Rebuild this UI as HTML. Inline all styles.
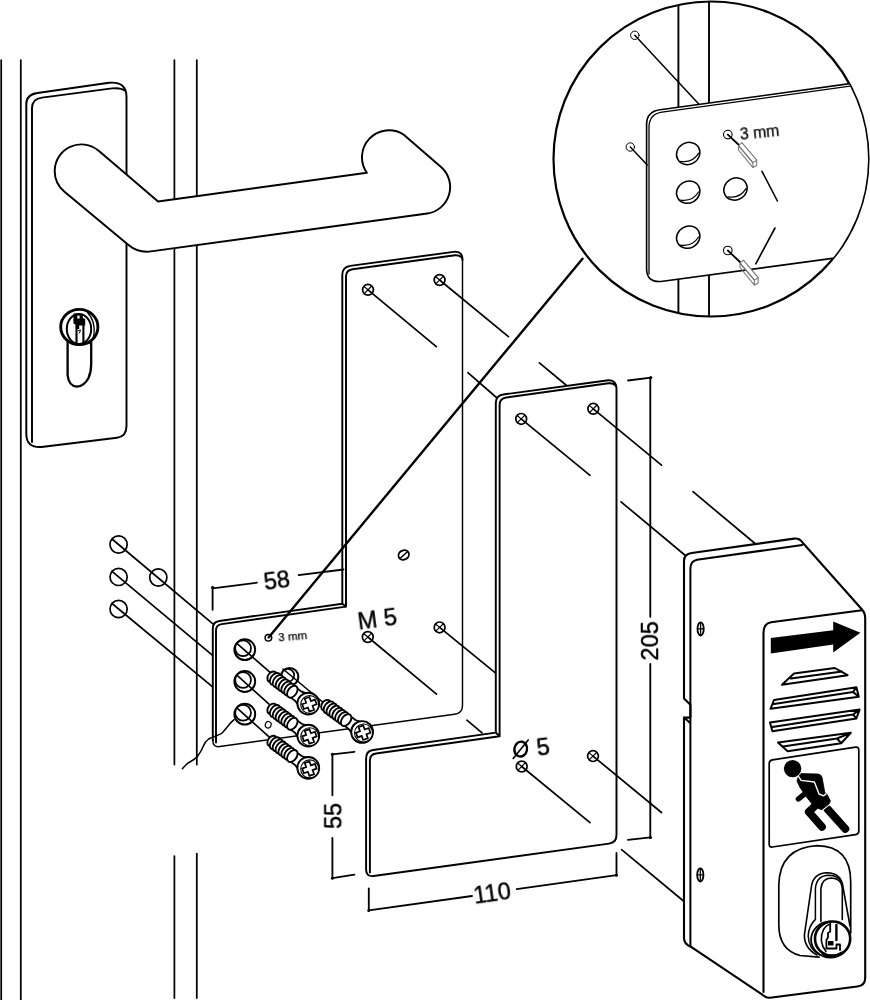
<!DOCTYPE html>
<html><head><meta charset="utf-8"><title>Diagram</title>
<style>
html,body{margin:0;padding:0;background:#fff;}
body{width:870px;height:1000px;overflow:hidden;font-family:"Liberation Sans",sans-serif;}
svg{display:block}
text{font-family:"Liberation Sans",sans-serif;fill:#000;stroke:#000;stroke-width:0.42;stroke-linejoin:round;filter:url(#nf)}
.sm{stroke-width:0.25}
.o{fill:none;stroke:#000;stroke-width:1.95;stroke-linecap:round;stroke-linejoin:round}
.w{fill:#fff;stroke:#000;stroke-width:1.95;stroke-linecap:round;stroke-linejoin:round}
.t{fill:none;stroke:#000;stroke-width:1.75;stroke-linecap:round;stroke-linejoin:round}
.tw{fill:#fff;stroke:#000;stroke-width:1.75;stroke-linecap:round;stroke-linejoin:round}
.k{fill:none;stroke:#000;stroke-width:2.4;stroke-linecap:round;stroke-linejoin:round}
.g{fill:#fff;stroke:#777;stroke-width:1.1;stroke-linejoin:round}
</style></head><body>
<svg width="870" height="1000" viewBox="0 0 870 1000">
<defs><filter id="nf" x="-20%" y="-20%" width="140%" height="140%"><feOffset dx="0" dy="0"/></filter></defs>
<rect width="870" height="1000" fill="#fff"/>

<g class="t">
<path d="M1.2 60V1000M20.8 60V1000"/>
<path d="M174.4 60V764.5M196.8 60V764.5M174.4 856V998M196.8 853.5V998"/>
</g>
<path class="w" d="M26.3 104 Q26.3 94.5 37.5 93 L109 82.8 Q126.5 81 126.5 97 V426 Q126.5 436.5 117 437.7 L41.5 447 Q26.3 448 26.3 434 Z"/>
<path class="o" d="M32 442 V108 Q32 99 42 97.6 L112 88.4 Q121 87.5 124.8 90.5"/>
<g>
<path class="w" style="stroke-width:2.3" d="M67.6 342 V375 Q68.5 386 77 386.6 Q84 386.4 88.5 378 Q91.2 372 91.2 364 V342"/>
<ellipse cx="79.3" cy="327" rx="18.6" ry="17.6" fill="#fff" stroke="#000" stroke-width="2.9"/>
<path d="M87.5 312.5 Q95.5 321 94 334 Q93 340 89 343.5" class="o" style="stroke-width:1.3"/>
<ellipse cx="79" cy="329" rx="12.2" ry="15" fill="#fff" stroke="#000" stroke-width="2"/>
<path d="M76.5 318 V343 M83.4 320 V342.5" class="o" style="stroke-width:2.1"/>
<path d="M73.4 313.4 h6.5 l3 1.5 v3 l2.3 1 v6.5 h-6 v3.5 h-3.3 v-4.5 l-2.5 -1 z" fill="#000"/>
<rect x="77.3" y="315.6" width="2.3" height="3" fill="#fff"/>
<path d="M78.5 330.5 l2 -0.5 l-1 3" class="o" style="stroke-width:1"/>
</g>
<path class="w" d="M98.4 150.6 L158.1 201.5 L366.9 172.8 A27 27 0 0 1 403.5 134.5 L441.6 167.5 A26.7 26.7 0 0 1 427.3 213.5 L151 251.4 Q138.5 253.3 128.5 245 L64.2 191.4 A26.6 26.6 0 0 1 54.7 171 A26.6 26.6 0 0 1 98.4 150.6 Z"/>
<g class="t" style="stroke-width:1.7">
<circle cx="118.6" cy="544.5" r="8.6" fill="#fff"/>
<circle cx="118.6" cy="576.9" r="8.6" fill="#fff"/>
<circle cx="118.6" cy="609" r="8.6" fill="#fff"/>
<circle cx="158.3" cy="577.5" r="8.6" fill="#fff"/>
<path d="M112 539 L212.6 623.7 M112 571.4 L212.6 655.3 M112 603.5 L212.6 686.9"/>
</g>
<path fill="#fff" d="M212.8 628.4 Q212.8 621.9 219.3 621 L342.3 603.7 V275 Q342.3 267 350.3 265.9 L453.5 251.85 Q462.5 250.6 462.5 260 V705.5 Q462.5 713.2 454.5 714.3 L219.8 746.55 Q212.8 747.5 212.8 740.5 Z"/>
<path class="o" d="M212.8 740.5 V628.4 Q212.8 621.9 219.3 621 L342.3 603.7 V275 Q342.3 267 350.3 265.9 L453.5 251.85 Q462.5 250.6 462.5 260"/>
<path class="o" style="stroke-width:1.45" d="M462.5 260 V705.5 Q462.5 713.2 454.5 714.3 L219.8 746.55 Q212.8 747.5 212.8 740.5"/>
<path class="o" d="M216 742.5 V630.5 Q216 624.9 221.8 624.1 L346 606.6 V276.5 Q346 270.1 352.5 269.2 L455 255.2 Q459.5 254.8 461.8 257.6 M342.3 603.7 L346 606.6"/>
<circle class="tw" style="stroke-width:1.7" cx="368" cy="289.8" r="5.4"/>
<path class="t" style="stroke-width:1.2" d="M364.2 293.6 L371.8 286.0 M364.2 286.6 L368.0 289.8"/>
<path class="t" style="stroke-width:1.7" d="M368 289.8 L436.3 346.7"/>
<circle class="tw" style="stroke-width:1.7" cx="439.6" cy="280" r="5.4"/>
<path class="t" style="stroke-width:1.2" d="M435.8 283.8 L443.4 276.2 M435.8 276.8 L439.6 280.0"/>
<path class="t" style="stroke-width:1.7" d="M439.6 280 L508.4 336.6"/>
<circle class="tw" style="stroke-width:1.7" cx="367.8" cy="637" r="5.4"/>
<path class="t" style="stroke-width:1.2" d="M364.0 640.8 L371.6 633.2 M364.0 633.8 L367.8 637.0"/>
<path class="t" style="stroke-width:1.7" d="M367.8 637 L436.5 694.2"/>
<circle class="tw" style="stroke-width:1.7" cx="439.6" cy="627.4" r="5.4"/>
<path class="t" style="stroke-width:1.2" d="M435.8 631.2 L443.4 623.6 M435.8 624.2 L439.6 627.4"/>
<path class="t" style="stroke-width:1.7" d="M439.6 627.4 L496 673.4"/>
<ellipse class="tw" style="stroke-width:1.9" cx="403.7" cy="555" rx="5.4" ry="4.6" transform="rotate(-25 403.7 555)"/>
<path class="t" style="stroke-width:1.5" d="M400.8 557.8 L406.8 552.2"/>
<circle cx="289.6" cy="676.8" r="8.8" fill="#fff" stroke="#000" stroke-width="2"/>
<circle cx="287.90000000000003" cy="675.3" r="6.300000000000001" fill="#fff" stroke="#000" stroke-width="1.7"/>
<circle cx="244.8" cy="649.7" r="10.4" fill="#fff" stroke="#000" stroke-width="2"/>
<circle cx="243.10000000000002" cy="648.2" r="7.9" fill="#fff" stroke="#000" stroke-width="1.7"/>
<circle cx="244.8" cy="681.5" r="10.4" fill="#fff" stroke="#000" stroke-width="2"/>
<circle cx="243.10000000000002" cy="680.0" r="7.9" fill="#fff" stroke="#000" stroke-width="1.7"/>
<circle cx="244.8" cy="714.2" r="10.4" fill="#fff" stroke="#000" stroke-width="2"/>
<circle cx="243.10000000000002" cy="712.7" r="7.9" fill="#fff" stroke="#000" stroke-width="1.7"/>
<circle cx="268.4" cy="637.8" r="3.3" fill="#fff" stroke="#000" stroke-width="1.5"/>
<ellipse cx="268.2" cy="724.8" rx="2.9" ry="3.3" fill="#fff" stroke="#000" stroke-width="1.2" transform="rotate(20 268.2 724.8)"/>
<path class="t" style="stroke-width:1.5" d="M234.1 719.7 C230 723 226 729 222.4 732.8 C219 735.8 212.5 736.6 208.6 739 C205 741.5 204.2 744 203.1 746.6 C201.5 751 199.6 753.5 197.6 756.2 C194.5 760 191 761.2 187.9 763.1 C185.5 765 184 767 182.4 768.6"/>
<g class="t" style="stroke-width:1.6">
<path d="M237.4 643.9 L271 673.2"/>
<path d="M237.4 675.7 L271 705.8"/>
<path d="M237.4 708.4 L271 738.7"/>
<path d="M283 669 L325 704"/>
</g>
<g transform="translate(362.6,732.3) rotate(36.50)">
<path class="w" style="stroke-width:1.8" d="M-24 -5.6 L-13 -5.6 Q-8 -6.4 -3 -10.5 L-3 10.5 Q-8 6.4 -13 5.6 L-24 5.6 Z"/>
<ellipse cx="-45.50" cy="0" rx="4.3" ry="5.8" fill="#fff" stroke="#000" stroke-width="1.9"/>
<ellipse cx="-41.93" cy="0" rx="4.3" ry="6.7" fill="#fff" stroke="#000" stroke-width="1.9"/>
<ellipse cx="-38.36" cy="0" rx="4.3" ry="6.7" fill="#fff" stroke="#000" stroke-width="1.9"/>
<ellipse cx="-34.79" cy="0" rx="4.3" ry="6.7" fill="#fff" stroke="#000" stroke-width="1.9"/>
<ellipse cx="-31.21" cy="0" rx="4.3" ry="6.7" fill="#fff" stroke="#000" stroke-width="1.9"/>
<ellipse cx="-27.64" cy="0" rx="4.3" ry="6.7" fill="#fff" stroke="#000" stroke-width="1.9"/>
<ellipse cx="-24.07" cy="0" rx="4.3" ry="6.7" fill="#fff" stroke="#000" stroke-width="1.9"/>
<ellipse cx="-20.50" cy="0" rx="4.3" ry="6.7" fill="#fff" stroke="#000" stroke-width="1.9"/>
</g>
<circle cx="362.1" cy="732.0" r="10.9" fill="#fff" stroke="#000" stroke-width="1.9"/>
<circle cx="363.5" cy="733.0" r="9.0" fill="#fff" stroke="#000" stroke-width="1.1"/>
<path transform="translate(363.20000000000005,732.6999999999999) rotate(-20)" fill="#fff" stroke="#000" stroke-width="1.7" stroke-linejoin="miter" d="M-2.5 -6.8 H2.5 V-2.5 H6.8 V2.5 H2.5 V6.8 H-2.5 V2.5 H-6.8 V-2.5 H-2.5 Z"/>
<g transform="translate(308.8,703.9) rotate(36.50)">
<path class="w" style="stroke-width:1.8" d="M-24 -5.6 L-13 -5.6 Q-8 -6.4 -3 -10.5 L-3 10.5 Q-8 6.4 -13 5.6 L-24 5.6 Z"/>
<ellipse cx="-45.50" cy="0" rx="4.3" ry="5.8" fill="#fff" stroke="#000" stroke-width="1.9"/>
<ellipse cx="-41.93" cy="0" rx="4.3" ry="6.7" fill="#fff" stroke="#000" stroke-width="1.9"/>
<ellipse cx="-38.36" cy="0" rx="4.3" ry="6.7" fill="#fff" stroke="#000" stroke-width="1.9"/>
<ellipse cx="-34.79" cy="0" rx="4.3" ry="6.7" fill="#fff" stroke="#000" stroke-width="1.9"/>
<ellipse cx="-31.21" cy="0" rx="4.3" ry="6.7" fill="#fff" stroke="#000" stroke-width="1.9"/>
<ellipse cx="-27.64" cy="0" rx="4.3" ry="6.7" fill="#fff" stroke="#000" stroke-width="1.9"/>
<ellipse cx="-24.07" cy="0" rx="4.3" ry="6.7" fill="#fff" stroke="#000" stroke-width="1.9"/>
<ellipse cx="-20.50" cy="0" rx="4.3" ry="6.7" fill="#fff" stroke="#000" stroke-width="1.9"/>
</g>
<circle cx="308.3" cy="703.6" r="10.9" fill="#fff" stroke="#000" stroke-width="1.9"/>
<circle cx="309.7" cy="704.6" r="9.0" fill="#fff" stroke="#000" stroke-width="1.1"/>
<path transform="translate(309.40000000000003,704.3) rotate(-20)" fill="#fff" stroke="#000" stroke-width="1.7" stroke-linejoin="miter" d="M-2.5 -6.8 H2.5 V-2.5 H6.8 V2.5 H2.5 V6.8 H-2.5 V2.5 H-6.8 V-2.5 H-2.5 Z"/>
<g transform="translate(308.8,736) rotate(36.50)">
<path class="w" style="stroke-width:1.8" d="M-24 -5.6 L-13 -5.6 Q-8 -6.4 -3 -10.5 L-3 10.5 Q-8 6.4 -13 5.6 L-24 5.6 Z"/>
<ellipse cx="-45.50" cy="0" rx="4.3" ry="5.8" fill="#fff" stroke="#000" stroke-width="1.9"/>
<ellipse cx="-41.93" cy="0" rx="4.3" ry="6.7" fill="#fff" stroke="#000" stroke-width="1.9"/>
<ellipse cx="-38.36" cy="0" rx="4.3" ry="6.7" fill="#fff" stroke="#000" stroke-width="1.9"/>
<ellipse cx="-34.79" cy="0" rx="4.3" ry="6.7" fill="#fff" stroke="#000" stroke-width="1.9"/>
<ellipse cx="-31.21" cy="0" rx="4.3" ry="6.7" fill="#fff" stroke="#000" stroke-width="1.9"/>
<ellipse cx="-27.64" cy="0" rx="4.3" ry="6.7" fill="#fff" stroke="#000" stroke-width="1.9"/>
<ellipse cx="-24.07" cy="0" rx="4.3" ry="6.7" fill="#fff" stroke="#000" stroke-width="1.9"/>
<ellipse cx="-20.50" cy="0" rx="4.3" ry="6.7" fill="#fff" stroke="#000" stroke-width="1.9"/>
</g>
<circle cx="308.3" cy="735.7" r="10.9" fill="#fff" stroke="#000" stroke-width="1.9"/>
<circle cx="309.7" cy="736.7" r="9.0" fill="#fff" stroke="#000" stroke-width="1.1"/>
<path transform="translate(309.40000000000003,736.4) rotate(-20)" fill="#fff" stroke="#000" stroke-width="1.7" stroke-linejoin="miter" d="M-2.5 -6.8 H2.5 V-2.5 H6.8 V2.5 H2.5 V6.8 H-2.5 V2.5 H-6.8 V-2.5 H-2.5 Z"/>
<g transform="translate(308.8,768.2) rotate(36.50)">
<path class="w" style="stroke-width:1.8" d="M-24 -5.6 L-13 -5.6 Q-8 -6.4 -3 -10.5 L-3 10.5 Q-8 6.4 -13 5.6 L-24 5.6 Z"/>
<ellipse cx="-45.50" cy="0" rx="4.3" ry="5.8" fill="#fff" stroke="#000" stroke-width="1.9"/>
<ellipse cx="-41.93" cy="0" rx="4.3" ry="6.7" fill="#fff" stroke="#000" stroke-width="1.9"/>
<ellipse cx="-38.36" cy="0" rx="4.3" ry="6.7" fill="#fff" stroke="#000" stroke-width="1.9"/>
<ellipse cx="-34.79" cy="0" rx="4.3" ry="6.7" fill="#fff" stroke="#000" stroke-width="1.9"/>
<ellipse cx="-31.21" cy="0" rx="4.3" ry="6.7" fill="#fff" stroke="#000" stroke-width="1.9"/>
<ellipse cx="-27.64" cy="0" rx="4.3" ry="6.7" fill="#fff" stroke="#000" stroke-width="1.9"/>
<ellipse cx="-24.07" cy="0" rx="4.3" ry="6.7" fill="#fff" stroke="#000" stroke-width="1.9"/>
<ellipse cx="-20.50" cy="0" rx="4.3" ry="6.7" fill="#fff" stroke="#000" stroke-width="1.9"/>
</g>
<circle cx="308.3" cy="767.9000000000001" r="10.9" fill="#fff" stroke="#000" stroke-width="1.9"/>
<circle cx="309.7" cy="768.9000000000001" r="9.0" fill="#fff" stroke="#000" stroke-width="1.1"/>
<path transform="translate(309.40000000000003,768.6) rotate(-20)" fill="#fff" stroke="#000" stroke-width="1.7" stroke-linejoin="miter" d="M-2.5 -6.8 H2.5 V-2.5 H6.8 V2.5 H2.5 V6.8 H-2.5 V2.5 H-6.8 V-2.5 H-2.5 Z"/>
<path class="k" d="M582.5 258.7 L268.6 637.4"/>
<text class="sm" transform="translate(278.6,641.4) rotate(-5)" font-size="11.6">3 mm</text>
<text transform="translate(358.8,629.6) rotate(-7.5)" font-size="23.6">M 5</text>
<g class="t" style="stroke-width:1.7">
<path d="M467.9 372.7 L497 398 M539.4 362.8 L567.2 386 M466.9 720.2 L482 732.9 M621 501.8 L684.8 555 M693 491.7 L755 543.5 M621.6 849.7 L683.5 901"/>
</g>
<path class="w" d="M366.1 758 Q366.1 751 373.1 750 L495.8 732.6 V403 Q495.8 395.5 503.3 394.5 L606.5 380.45 Q616.5 379.1 616.5 389.3 V835 Q616.5 842.6 609 843.6 L373.6 876 Q366.1 877 366.1 869.5 Z"/>
<path class="o" d="M369.9 872.5 V760.5 Q369.9 754.4 376 753.55 L499.6 736.2 V405 Q499.6 398.4 506.2 397.5 L608.5 383.3 Q613.3 382.9 615.8 385.8 M495.8 732.6 L499.6 736.2"/>
<circle class="tw" style="stroke-width:1.7" cx="521.2" cy="418.9" r="5.4"/>
<path class="t" style="stroke-width:1.2" d="M517.4 422.7 L525.0 415.1 M517.4 415.7 L521.2 418.9"/>
<path class="t" style="stroke-width:1.7" d="M521.2 418.9 L590 475.3"/>
<circle class="tw" style="stroke-width:1.7" cx="593.3" cy="408.8" r="5.4"/>
<path class="t" style="stroke-width:1.2" d="M589.5 412.6 L597.1 405.0 M589.5 405.6 L593.3 408.8"/>
<path class="t" style="stroke-width:1.7" d="M593.3 408.8 L661.5 465.2"/>
<circle class="tw" style="stroke-width:1.7" cx="521.7" cy="766.5" r="5.4"/>
<path class="t" style="stroke-width:1.2" d="M517.9 770.3 L525.5 762.7 M517.9 763.3 L521.7 766.5"/>
<path class="t" style="stroke-width:1.7" d="M521.7 766.5 L590 822.6"/>
<circle class="tw" style="stroke-width:1.7" cx="593" cy="756.1" r="5.4"/>
<path class="t" style="stroke-width:1.2" d="M589.2 759.9 L596.8 752.3 M589.2 752.9 L593.0 756.1"/>
<path class="t" style="stroke-width:1.7" d="M593 756.1 L661.5 812.5"/>
<ellipse cx="520.7" cy="749.1" rx="6.3" ry="7.5" transform="rotate(12 520.7 749.1)" fill="none" stroke="#000" stroke-width="2.4"/>
<path d="M512.8 759.1 L528.6 739.5" stroke="#000" stroke-width="1.6" fill="none"/>
<text transform="translate(537.6,755.8) rotate(-7)" font-size="23.6">5</text>
<g class="t" style="stroke-width:1.85">
<path d="M212.6 587 V609.8 M212.6 588.3 L256.9 582.7 M298.6 575.2 L343.5 569.5"/>
<path d="M332.4 754.5 V795.3 M332.4 837.8 V878 M332.4 754.3 L354.4 751.8 M332.4 878.2 L354.4 874.6"/>
<path d="M368.8 888.4 V910.4 M368.8 910.4 L472 896 M516.7 889.1 L616.5 875.2 M616.5 853 V875.2"/>
<path d="M650.3 378 V616.8 M650.3 664 V838 M628 380.5 L651 377.6 M628 839.8 L650.5 837.3"/>
</g>
<circle cx="212.6" cy="587.6" r="1.5" fill="#000"/>
<circle cx="332.4" cy="754.3" r="1.5" fill="#000"/>
<circle cx="332.4" cy="878.2" r="1.5" fill="#000"/>
<circle cx="368.8" cy="910.4" r="1.5" fill="#000"/>
<circle cx="616.5" cy="875.2" r="1.5" fill="#000"/>
<circle cx="650.8" cy="377.6" r="1.5" fill="#000"/>
<circle cx="650.5" cy="837.5" r="1.5" fill="#000"/>
<text transform="translate(277.8,588.3) rotate(-7.5)" font-size="23.6" text-anchor="middle">58</text>
<text transform="translate(341.3,816) rotate(-90)" font-size="23.6" text-anchor="middle">55</text>
<text transform="translate(493.2,901.1) rotate(-8)" font-size="23.6" text-anchor="middle">110</text>
<text transform="translate(658,640.8) rotate(-90)" font-size="23.6" text-anchor="middle">205</text>
<path class="w" style="stroke-width:2.1" d="M684 561 Q684 554 691.7 553 L794 538.6 Q799.5 538 802.5 542.5 L862 609.5 Q865.2 613 865.2 618 V978 Q865.2 985.5 857.2 986.5 L770 997.7 Q766 998 764.2 996 L690.4 946.4 Q684 944 684 938 V717.6 H690.4 V704.8 L684 698.4 Z"/>
<path class="o" style="stroke-width:2" d="M690.4 946.4 V569 Q690.4 561 697 559.8 L802.3 545 M684 717.6 L690.4 723.2"/>
<path class="o" style="stroke-width:2.1" d="M862 610.2 L771 622.3 Q763.5 623.5 763.5 633 V992"/>
<ellipse cx="700.6" cy="628.9" rx="3.1" ry="6.6" fill="#fff" stroke="#000" stroke-width="1.8"/>
<path class="t" style="stroke-width:1.3" d="M700.6 622.3 V635.5 M697.6 628.9 H703.6"/>
<ellipse cx="700.3" cy="874.9" rx="3.1" ry="6.6" fill="#fff" stroke="#000" stroke-width="1.8"/>
<path class="t" style="stroke-width:1.3" d="M700.3 868.3 V881.5 M697.3 874.9 H703.3"/>
<path fill="#000" d="M770.8 638.1 L833.2 630.2 L833.2 621.6 L860.4 632.8 L833.2 652.6 L833.2 644.6 L770.8 653.6 Z"/>
<g class="o" style="stroke-width:2">
<path d="M782 684.8 L794 673.6 L834.8 668 L847.6 675.2 Z M791 678.6 L842 671.6"/>
<path d="M770.5 708.8 L774 700 L856.4 687.2 L858.8 696.8 Z M774 704 L853 692 L856.4 687.2 M853 692 L858.8 696.8"/>
<path d="M770 722.4 L772.4 731.2 L856.4 718.4 L859.6 709.6 Z M772.4 727 L853 714.6 L859.6 709.6 M853 714.6 L856.4 718.4"/>
<path d="M778 742.4 L787.6 751.2 L841.2 743.2 L850.8 732.8 Z M783 746.5 L837 738.5 L850.8 732.8 M837 738.5 L841.2 743.2"/>
</g>
<path class="o" style="stroke-width:1.7" d="M769.2 763.5 Q769.2 760.3 772.4 759.8 L855.6 747.2 Q858.8 746.8 858.8 750 V831 Q858.8 834.2 855.6 834.7 L772.4 847 Q769.2 847.4 769.2 844.2 Z"/>
<g>
<ellipse cx="792.6" cy="768.6" rx="8.7" ry="8.6" fill="#000"/>
<path d="M827.5 809 L845.3 828.8" stroke="#000" stroke-width="8" stroke-linecap="round" fill="none"/>
<path d="M820.8 811.2 L829.6 804.4" stroke="#fff" stroke-width="1.4" fill="none"/>
<path d="M798 777.5 L801 773.6 L818 774 Q821.6 774.4 822.2 778 L824.8 792.5 L827.2 794.5 L830.4 801 L829 804 L821.5 809.8 L814 806.5 L806.5 797 L800 787.5 L797 781 Z" fill="#000" stroke="#000" stroke-width="0.8" stroke-linejoin="round"/>
<path d="M798.3 776.2 L801.2 780.4 L814.4 782 L817.9 791 L819 794 L823.6 795.8 L826.4 793.6" fill="none" stroke="#fff" stroke-width="1.4" stroke-linejoin="round"/>
<path d="M798.4 799 L803.8 794.6" stroke="#000" stroke-width="5.4" stroke-linecap="round" fill="none"/>
<path d="M816.5 804.5 L808.8 811.8 L822 826.8" stroke="#000" stroke-width="7.8" stroke-linecap="round" stroke-linejoin="round" fill="none"/>
</g>
<path class="o" style="stroke-width:1.7" d="M850.7 933 V882 Q850.8 846 817 845.6 Q779.5 848 778.8 885 V925 Q779 950 800 955.5 L819 957.2"/>
<path class="o" style="stroke-width:1.6" d="M850 926 L842.8 886 Q841 873 827 872.7 Q813.5 873.3 811.5 886 L804.4 934.8 Q804 948 817 955"/>
<path class="o" style="stroke-width:1.5" d="M841.5 882 Q838 875.5 829 875.3 Q816.5 875.5 815.4 888.5 V919.4 Q808.5 926 808.2 936 Q808.5 949 820 955"/>
<path class="o" style="stroke-width:1.6" d="M820.9 921.6 V888.6 Q822 878.2 831.3 878 Q841.5 878.5 842.3 888 V919.4"/>
<ellipse cx="830.4" cy="939.6" rx="19.3" ry="17.9" fill="#fff" stroke="#000" stroke-width="1.8"/>
<ellipse cx="832.6" cy="938.7" rx="17.6" ry="17.2" fill="#fff" stroke="#000" stroke-width="2.6"/>
<path class="o" style="stroke-width:1.6" d="M826 951.5 Q818 941 823.5 929.5 Q826 925.5 829 924.5"/>
<path class="o" style="stroke-width:2.4" d="M836.4 925 V940"/>
<path class="o" style="stroke-width:1.8" d="M830.2 923.6 V931.6 L828 933 V937.5 L826.4 940 V948.5 H836.5 V944.5 H840 V950"/>
<path d="M828 941 H833.5 V945.5 H828 Z" fill="#000"/>
<path d="M822 953 Q832 959.5 843 952.5" fill="none" stroke="#000" stroke-width="3"/>
<defs><clipPath id="cc"><circle cx="711" cy="159" r="157"/></clipPath></defs>
<circle cx="711" cy="159" r="157.5" fill="#fff" stroke="#000" stroke-width="2.2"/>
<g clip-path="url(#cc)">
<path class="t" style="stroke-width:1.9" d="M678.4 0 V320 M709 0 V320"/>
<path class="w" style="stroke-width:1.6" d="M646.6 124 Q646.8 111.5 660 109.8 L880 79.5 V252 L661 281.5 Q646.8 282.5 646.6 269 Z"/>
<path class="o" style="stroke-width:1.3" d="M649 274 V127 Q649.3 114 662 112.2 L880 82"/>
<circle class="tw" style="stroke-width:1" cx="634.8" cy="35.3" r="4.2"/><circle class="tw" style="stroke-width:1" cx="630.3" cy="147" r="4.2"/>
<path class="t" style="stroke-width:1.5" d="M634.8 35.3 L699 104.3 M630.3 147 L647.3 165"/>
<g transform="rotate(-30 688.2 153.5)"><ellipse cx="688.2" cy="153.5" rx="12" ry="10.8" class="tw" style="stroke-width:1.5"/>
<path class="t" style="stroke-width:1.2" d="M677.7 156.5 Q687.2 164.0 697.2 158.5"/></g>
<g transform="rotate(-30 688.2 192.2)"><ellipse cx="688.2" cy="192.2" rx="12" ry="10.8" class="tw" style="stroke-width:1.5"/>
<path class="t" style="stroke-width:1.2" d="M677.7 195.2 Q687.2 202.7 697.2 197.2"/></g>
<g transform="rotate(-30 688.2 237.2)"><ellipse cx="688.2" cy="237.2" rx="12" ry="10.8" class="tw" style="stroke-width:1.5"/>
<path class="t" style="stroke-width:1.2" d="M677.7 240.2 Q687.2 247.7 697.2 242.2"/></g>
<g transform="rotate(-30 735.5 189)"><ellipse cx="735.5" cy="189" rx="12" ry="10.8" class="tw" style="stroke-width:1.5"/>
<path class="t" style="stroke-width:1.2" d="M725.0 192 Q734.5 199.5 744.5 194"/></g>
<circle class="tw" style="stroke-width:1.1" cx="727.8" cy="134.6" r="4.3"/>
<circle class="tw" style="stroke-width:1.1" cx="727.8" cy="250.5" r="4.3"/>
<path class="t" style="stroke-width:1.8" d="M727.8 134.6 L740 146 M727.8 250.5 L740 262"/>
<g transform="translate(738.5,143)" class="g">
<path d="M0 2.6 L3.4 -0.4 L18.2 17.2 L18.2 22.4 L14.4 24.6 L14.4 19.6 Z"/>
<path d="M0 2.6 L14.4 19.6 L18.2 17.2 M0 2.6 V7 L14.4 24.6" fill="none"/>
</g>
<g transform="translate(740,260.5)" class="g">
<path d="M0 2.6 L3.4 -0.4 L18.2 17.2 L18.2 22.4 L14.4 24.6 L14.4 19.6 Z"/>
<path d="M0 2.6 L14.4 19.6 L18.2 17.2 M0 2.6 V7 L14.4 24.6" fill="none"/>
</g>
<path class="t" style="stroke-width:1.6" d="M762 171.3 L777.4 201 M775 228 L755.8 263.8"/>
<text class="sm" transform="translate(740.5,139.8) rotate(-6)" font-size="15.8">3 mm</text>
</g>
</svg></body></html>
